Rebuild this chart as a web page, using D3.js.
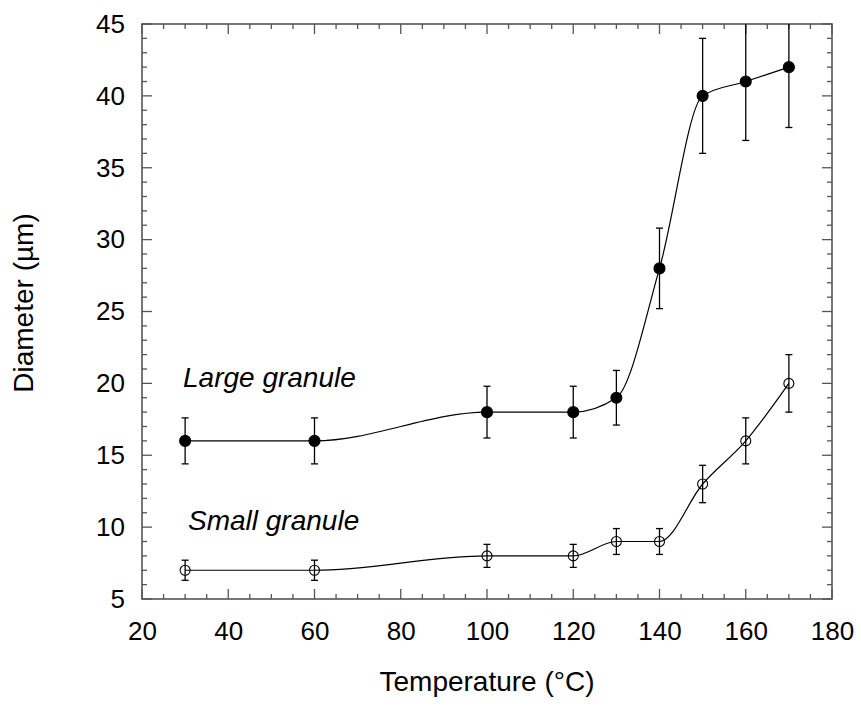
<!DOCTYPE html>
<html>
<head>
<meta charset="utf-8">
<script src="https://cdn.jsdelivr.net/npm/d3@7"></script>
<style>
  html, body { margin: 0; padding: 0; background: #fff; }
  svg { display: block; }
  text { font-family: "Liberation Sans", Arial, sans-serif; fill: #000; }
</style>
</head>
<body>
<svg id="chart" width="861" height="706"></svg>
<script>
const temperatures = [30, 60, 100, 120, 130, 140, 150, 160, 170];
const largeDiameter = [16, 16, 18, 18, 19, 28, 40, 41, 42];
const largeError = [1.6, 1.6, 1.8, 1.8, 1.9, 2.8, 4.0, 4.1, 4.2];
const smallDiameter = [7, 7, 8, 8, 9, 9, 13, 16, 20];
const smallError = [0.7, 0.7, 0.8, 0.8, 0.9, 0.9, 1.3, 1.6, 2.0];
const xTickValues = [20, 40, 60, 80, 100, 120, 140, 160, 180];
const yTickValues = [5, 10, 15, 20, 25, 30, 35, 40, 45];
const seriesLabels = ["Large granule", "Small granule"];
const xTitle = "Temperature (°C)";
const yTitle = "Diameter (µm)";

const svg = d3.select("#chart");
const m = { left: 142, right: 832, top: 24, bottom: 599 };
const x = d3.scaleLinear().domain([20, 180]).range([m.left, m.right]);
const y = d3.scaleLinear().domain([5, 45]).range([m.bottom, m.top]);

const frameColor = "#555";

// clip
svg.append("defs").append("clipPath").attr("id", "clip")
  .append("rect").attr("x", m.left).attr("y", m.top)
  .attr("width", m.right - m.left).attr("height", m.bottom - m.top);

// minor + major ticks on all four sides
const xMinor = d3.range(20, 180.1, 5);
const yMinor = d3.range(5, 45.1, 1);
const tickG = svg.append("g").attr("stroke", frameColor).attr("stroke-width", 1.3);
xMinor.forEach(v => {
  const len = (v % 20 === 0) ? 10 : 5;
  tickG.append("line").attr("x1", x(v)).attr("x2", x(v)).attr("y1", m.bottom).attr("y2", m.bottom - len);
  tickG.append("line").attr("x1", x(v)).attr("x2", x(v)).attr("y1", m.top).attr("y2", m.top + len);
});
yMinor.forEach(v => {
  const len = (v % 5 === 0) ? 10 : 5;
  tickG.append("line").attr("y1", y(v)).attr("y2", y(v)).attr("x1", m.left).attr("x2", m.left + len);
  tickG.append("line").attr("y1", y(v)).attr("y2", y(v)).attr("x1", m.right).attr("x2", m.right - len);
});

// frame
svg.append("rect").attr("x", m.left).attr("y", m.top)
  .attr("width", m.right - m.left).attr("height", m.bottom - m.top)
  .attr("fill", "none").attr("stroke", frameColor).attr("stroke-width", 1.6);

// tick labels via axes (hide lines)
const xAxis = svg.append("g").attr("transform", `translate(0,${m.bottom})`)
  .call(d3.axisBottom(x).tickValues(xTickValues).tickSize(0).tickPadding(23).tickFormat(d3.format("d")));
const yAxis = svg.append("g").attr("transform", `translate(${m.left},0)`)
  .call(d3.axisLeft(y).tickValues(yTickValues).tickSize(0).tickPadding(17).tickFormat(d3.format("d")));
[xAxis, yAxis].forEach(a => {
  a.select(".domain").remove();
  a.selectAll("text").style("font-size", "26px").style("font-family", '"Liberation Sans", Arial, sans-serif').attr("fill", "#000");
});

// titles
svg.append("text").attr("x", (m.left + m.right) / 2).attr("y", 691)
  .attr("text-anchor", "middle").style("font-size", "28px").text(xTitle);
svg.append("text").attr("transform", `translate(33,303) rotate(-90)`)
  .attr("text-anchor", "middle").style("font-size", "28px").text(yTitle);

// series labels
svg.append("text").attr("x", 183).attr("y", 387).style("font-size", "28px")
  .style("font-style", "italic").text(seriesLabels[0]);
svg.append("text").attr("x", 188).attr("y", 530).style("font-size", "28px")
  .style("font-style", "italic").text(seriesLabels[1]);

const plot = svg.append("g").attr("clip-path", "url(#clip)");

function drawSeries(vals, errs, filled) {
  const data = temperatures.map((t, i) => ({ t, v: vals[i], e: errs[i] }));
  const line = d3.line().x(d => x(d.t)).y(d => y(d.v)).curve(d3.curveMonotoneX);
  plot.append("path").datum(data).attr("d", line)
    .attr("fill", "none").attr("stroke", "#000").attr("stroke-width", 1.2);
  const eb = plot.append("g").attr("stroke", "#000").attr("stroke-width", 1.3);
  data.forEach(d => {
    eb.append("line").attr("x1", x(d.t)).attr("x2", x(d.t)).attr("y1", y(d.v - d.e)).attr("y2", y(d.v + d.e));
    eb.append("line").attr("x1", x(d.t) - 3.5).attr("x2", x(d.t) + 3.5).attr("y1", y(d.v - d.e)).attr("y2", y(d.v - d.e));
    eb.append("line").attr("x1", x(d.t) - 3.5).attr("x2", x(d.t) + 3.5).attr("y1", y(d.v + d.e)).attr("y2", y(d.v + d.e));
  });
  plot.append("g").selectAll("circle").data(data).join("circle")
    .attr("cx", d => x(d.t)).attr("cy", d => y(d.v)).attr("r", filled ? 5.5 : 5)
    .attr("fill", filled ? "#000" : "none").attr("stroke", "#000").attr("stroke-width", 1.1);
}
drawSeries(largeDiameter, largeError, true);
drawSeries(smallDiameter, smallError, false);
</script>
</body>
</html>
